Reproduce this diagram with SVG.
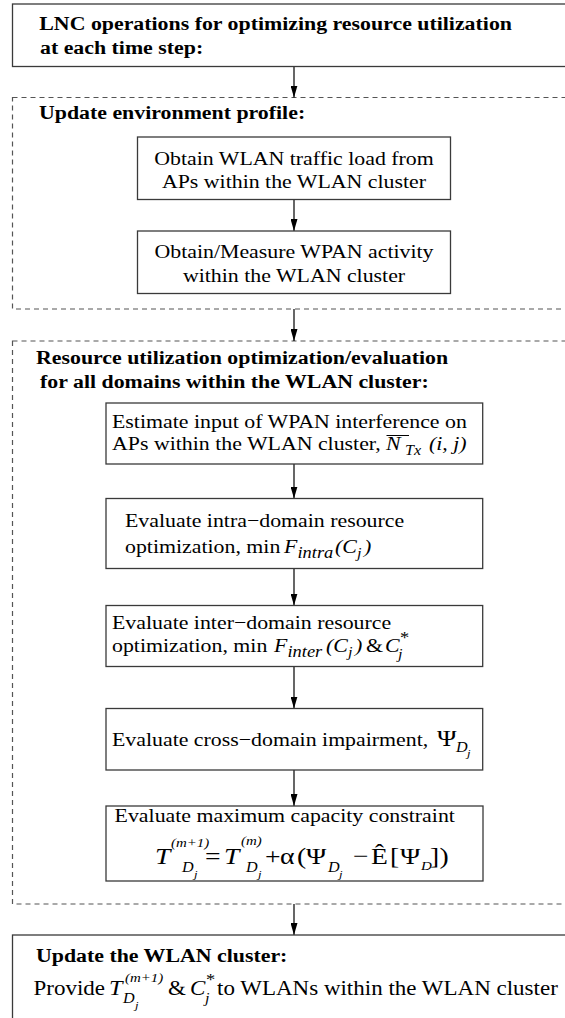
<svg xmlns="http://www.w3.org/2000/svg" width="565" height="1018" viewBox="0 0 565 1018">
<style>
  .box{fill:#fff;stroke:#3a3a3a;stroke-width:1.3}
  .grp{fill:none;stroke:#555;stroke-width:1.2;stroke-dasharray:5 4}
  .edge{fill:none;stroke:#000;stroke-width:1.2;marker-end:url(#ah)}
  .t{font-family:"Liberation Serif","Times New Roman",serif;font-size:19px;fill:#000}
  .b{font-weight:bold}
  .i{font-style:italic}
  .mid{text-anchor:middle}
  .sub{font-size:14px}
  .lsub{font-size:16px}
  .ssub{font-size:11px}
  .sup{font-size:13px}
  .eq{font-size:24px}
  .big{font-size:20px}
</style>
<defs>
  <marker id="ah" markerUnits="userSpaceOnUse" markerWidth="12" markerHeight="7" refX="12" refY="3.5" orient="auto">
    <path d="M0,0 L12,3.5 L0,7 Z" fill="#000"/>
  </marker>
</defs>

<!-- dashed containers -->
<g id="env-profile">
  <rect class="grp" x="12.5" y="97.5" width="560" height="211.5"/>
  <text class="t b" transform="translate(39,119) scale(1.15,1)">Update environment profile:</text>
</g>
<g id="optimization">
  <rect class="grp" x="12.5" y="341" width="560" height="563"/>
  <text class="t b" transform="translate(36,364) scale(1.15,1)">Resource utilization optimization/evaluation</text>
  <text class="t b" transform="translate(40,388) scale(1.15,1)">for all domains within the WLAN cluster:</text>
</g>

<!-- connectors -->
<g id="edges">
  <line class="edge" x1="294" y1="66.5" x2="294" y2="97.5"/>
  <line class="edge" x1="294" y1="199.5" x2="294" y2="231"/>
  <line class="edge" x1="294" y1="309" x2="294" y2="341"/>
  <line class="edge" x1="294" y1="464" x2="294" y2="498.5"/>
  <line class="edge" x1="294" y1="568.5" x2="294" y2="605.5"/>
  <line class="edge" x1="294" y1="666.5" x2="294" y2="708.5"/>
  <line class="edge" x1="294" y1="770" x2="294" y2="806"/>
  <line class="edge" x1="294" y1="904" x2="294" y2="935"/>
</g>

<!-- nodes -->
<g id="lnc-ops">
  <rect class="box" x="12.5" y="4" width="560" height="62.5"/>
  <text class="t b" transform="translate(39.3,30) scale(1.15,1)">LNC operations for optimizing resource utilization</text>
  <text class="t b" transform="translate(40,53.5) scale(1.15,1)">at each time step:</text>
</g>

<g id="wlan-load">
  <rect class="box" x="137.5" y="137" width="313" height="62.5"/>
  <text class="t mid" transform="translate(294,165) scale(1.15,1)">Obtain WLAN traffic load from</text>
  <text class="t mid" transform="translate(294,188) scale(1.15,1)">APs within the WLAN cluster</text>
</g>

<g id="wpan-activity">
  <rect class="box" x="137.5" y="231" width="313" height="62.5"/>
  <text class="t mid" transform="translate(294,258) scale(1.15,1)">Obtain/Measure WPAN activity</text>
  <text class="t mid" transform="translate(294,282) scale(1.15,1)">within the WLAN cluster</text>
</g>

<g id="wpan-interference">
  <rect class="box" x="106" y="403" width="376.7" height="61"/>
  <text class="t" transform="translate(112,428) scale(1.15,1)">Estimate input of WPAN interference on</text>
  <text class="t" transform="translate(112,450) scale(1.15,1)">APs within the WLAN cluster,</text>
  <text class="t i" transform="translate(386,450) scale(1.15,1)">N</text>
  <line x1="386.5" y1="435.5" x2="409" y2="435.5" stroke="#000" stroke-width="1"/>
  <text class="t i sub" transform="translate(405,455) scale(1.15,1)">Tx</text>
  <text class="t i" transform="translate(429,450) scale(1.15,1)">(i, j)</text>
</g>

<g id="intra-domain">
  <rect class="box" x="106" y="498.5" width="376.7" height="70"/>
  <text class="t" transform="translate(125,527) scale(1.15,1)">Evaluate intra−domain resource</text>
  <text class="t" transform="translate(125,553) scale(1.15,1)">optimization, min</text>
  <text class="t i" transform="translate(284,553) scale(1.15,1)">F</text>
  <text class="t i lsub" transform="translate(297.5,558) scale(1.15,1)">intra</text>
  <text class="t i" transform="translate(335,553) scale(1.15,1)">(C</text>
  <text class="t i sub" transform="translate(357,558) scale(1.15,1)">j</text>
  <text class="t i" transform="translate(364,553) scale(1.15,1)">)</text>
</g>

<g id="inter-domain">
  <rect class="box" x="106" y="605.5" width="376.7" height="61"/>
  <text class="t" transform="translate(112,629) scale(1.15,1)">Evaluate inter−domain resource</text>
  <text class="t" transform="translate(112,652) scale(1.15,1)">optimization, min</text>
  <text class="t i" transform="translate(274,652) scale(1.15,1)">F</text>
  <text class="t i lsub" transform="translate(287.5,657) scale(1.15,1)">inter</text>
  <text class="t i" transform="translate(326,652) scale(1.15,1)">(C</text>
  <text class="t i sub" transform="translate(348,657) scale(1.15,1)">j</text>
  <text class="t i" transform="translate(355,652) scale(1.15,1)">)</text>
  <text class="t" transform="translate(366,652) scale(1.15,1)">&amp;</text>
  <text class="t i" transform="translate(385,652) scale(1.15,1)">C</text>
  <text class="t" style="font-size:16px" transform="translate(400,643) scale(1.15,1)">*</text>
  <text class="t i sub" transform="translate(398,659) scale(1.15,1)">j</text>
</g>

<g id="cross-domain">
  <rect class="box" x="106" y="708.5" width="376.7" height="61.5"/>
  <text class="t" transform="translate(112,746) scale(1.15,1)">Evaluate cross−domain impairment,</text>
  <text class="t" style="font-size:23px" transform="translate(437,746) scale(1.15,1)">Ψ</text>
  <text class="t i sub" transform="translate(456,752) scale(1.15,1)">D</text>
  <text class="t i ssub" transform="translate(467,757) scale(1.15,1)">j</text>
</g>

<g id="capacity">
  <rect class="box" x="106" y="806" width="377" height="75"/>
  <text class="t" transform="translate(114.6,822) scale(1.15,1)">Evaluate maximum capacity constraint</text>
  <!-- T_Dj^(m+1) = T_Dj^(m) + α(Ψ_Dj − Ê[Ψ_D]) -->
  <text class="t i eq" transform="translate(155,864) scale(1.15,1)">T</text>
  <text class="t i sup" transform="translate(171,847) scale(1.15,1)">(m+1)</text>
  <text class="t i sub" transform="translate(182,872) scale(1.15,1)">D</text>
  <text class="t i ssub" transform="translate(194,878) scale(1.15,1)">j</text>
  <text class="t eq" transform="translate(205,864) scale(1.15,1)">=</text>
  <text class="t i eq" transform="translate(224,864) scale(1.15,1)">T</text>
  <text class="t i sup" transform="translate(241,845) scale(1.15,1)">(m)</text>
  <text class="t i sub" transform="translate(246,872) scale(1.15,1)">D</text>
  <text class="t i ssub" transform="translate(258,878) scale(1.15,1)">j</text>
  <text class="t eq" transform="translate(265,864) scale(1.15,1)">+</text>
  <text class="t eq" transform="translate(280,864) scale(1.15,1)">α</text>
  <text class="t eq" transform="translate(297,864) scale(1.15,1)">(</text>
  <text class="t eq" transform="translate(306,864) scale(1.15,1)">Ψ</text>
  <text class="t i sub" transform="translate(328,872) scale(1.15,1)">D</text>
  <text class="t i ssub" transform="translate(339,878) scale(1.15,1)">j</text>
  <text class="t eq" transform="translate(353,864) scale(1.15,1)">−</text>
  <text class="t eq" transform="translate(371,864) scale(1.15,1)">Ê</text>
  <text class="t eq" transform="translate(390,864) scale(1.15,1)">[</text>
  <text class="t eq" transform="translate(400,864) scale(1.15,1)">Ψ</text>
  <text class="t i sup" transform="translate(421,870) scale(1.15,1)">D</text>
  <text class="t eq" transform="translate(430,864) scale(1.15,1)">]</text>
  <text class="t eq" transform="translate(439.5,864) scale(1.15,1)">)</text>
</g>

<g id="update-cluster">
  <rect class="box" x="12.5" y="935" width="560" height="100"/>
  <text class="t b" transform="translate(36,962) scale(1.15,1)">Update the WLAN cluster:</text>
  <text class="t big" transform="translate(33.5,995) scale(1.15,1)">Provide</text>
  <text class="t i" style="font-size:21px" transform="translate(109,995) scale(1.15,1)">T</text>
  <text class="t i sup" transform="translate(125,982) scale(1.15,1)">(m+1)</text>
  <text class="t i sub" transform="translate(123,1003) scale(1.15,1)">D</text>
  <text class="t i ssub" transform="translate(135,1009) scale(1.15,1)">j</text>
  <text class="t big" transform="translate(168,995) scale(1.15,1)">&amp;</text>
  <text class="t i big" transform="translate(190,995) scale(1.15,1)">C</text>
  <text class="t" style="font-size:16px" transform="translate(206,985) scale(1.15,1)">*</text>
  <text class="t i sub" transform="translate(205,1003) scale(1.15,1)">j</text>
  <text class="t big" transform="translate(217,995) scale(1.15,1)">to WLANs within the WLAN cluster</text>
</g>
</svg>
